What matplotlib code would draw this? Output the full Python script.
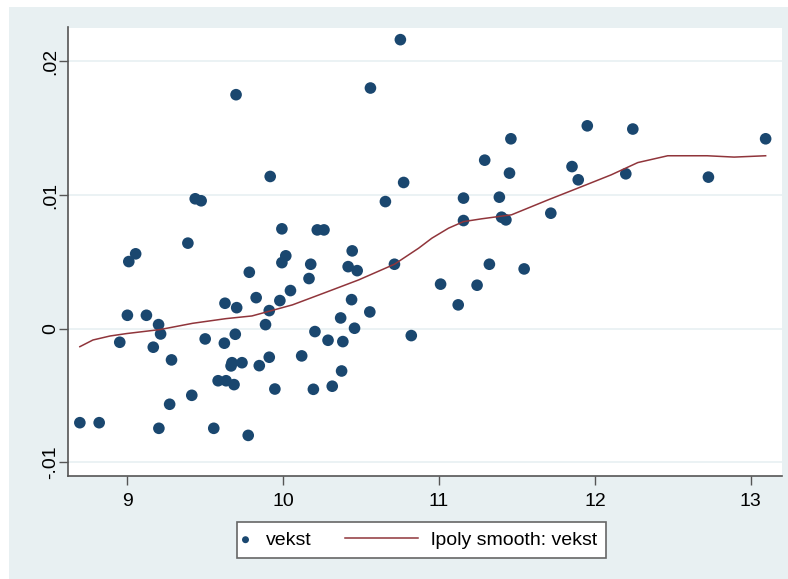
import matplotlib.pyplot as plt
from matplotlib.patches import Rectangle
from matplotlib.legend_handler import HandlerPathCollection, HandlerLine2D

# scatter data: vekst vs x
xs = [10.752, 9.698, 10.560, 9.917, 10.773, 9.436, 9.474, 10.656, 9.992, 10.219,
      10.262, 9.389, 9.054, 9.010, 10.443, 10.017, 9.992, 10.177, 10.417, 10.475,
      9.783, 10.166, 10.047, 9.827, 9.979, 10.439, 9.627, 9.702, 9.911, 10.556,
      9.001, 9.123, 10.369, 9.201, 9.887, 10.458, 10.204, 9.214, 9.693, 10.822,
      9.500, 10.288, 10.383, 8.952, 9.623, 9.167, 10.119, 9.911, 9.284, 9.672,
      9.736, 9.666, 9.847, 10.375, 9.583, 9.634, 9.685, 10.315, 9.947, 10.194,
      9.414, 9.272, 8.696, 8.820, 9.203, 9.555, 9.776, 10.714, 11.951, 12.243,
      11.461, 13.095, 11.293, 11.853, 11.452, 12.198, 11.893, 12.728, 11.157, 11.387,
      11.157, 11.401, 11.429, 11.717, 11.323, 11.546, 11.010, 11.244, 11.123]
vekst = [0.02163, 0.01751, 0.01801, 0.01139, 0.01094, 0.00972, 0.00957, 0.00951, 0.00747, 0.00739,
         0.00739, 0.00640, 0.00560, 0.00502, 0.00582, 0.00545, 0.00494, 0.00482, 0.00464, 0.00434,
         0.00422, 0.00375, 0.00285, 0.00232, 0.00210, 0.00217, 0.00190, 0.00157, 0.00135, 0.00125,
         0.00100, 0.00100, 0.00080, 0.00030, 0.00030, 0.00003, -0.00022, -0.00040, -0.00042, -0.00052,
         -0.00077, -0.00087, -0.00097, -0.00102, -0.00109, -0.00139, -0.00204, -0.00214, -0.00234, -0.00255,
         -0.00255, -0.00279, -0.00277, -0.00317, -0.00390, -0.00390, -0.00419, -0.00431, -0.00452, -0.00454,
         -0.00499, -0.00566, -0.00704, -0.00704, -0.00746, -0.00746, -0.00799, 0.00482, 0.01518, 0.01494,
         0.01421, 0.01421, 0.01261, 0.01213, 0.01164, 0.01159, 0.01114, 0.01134, 0.00977, 0.00984,
         0.00809, 0.00834, 0.00814, 0.00864, 0.00482, 0.00447, 0.00333, 0.00325, 0.00178]

# lpoly smooth curve
sx = [8.696, 8.78, 8.89, 8.995, 9.21, 9.42, 9.634, 9.80, 9.91, 10.06, 10.27, 10.485,
      10.714, 10.869, 10.954, 11.061, 11.157, 11.273, 11.465, 11.70, 11.891, 12.104,
      12.275, 12.467, 12.72, 12.893, 13.095]
sy = [-0.00135, -0.00085, -0.00055, -0.00037, -0.00007, 0.00040, 0.00075, 0.00095, 0.00130,
      0.00178, 0.00270, 0.00365, 0.00482, 0.00602, 0.00677, 0.00752, 0.00801, 0.00822,
      0.00852, 0.00964, 0.01052, 0.01151, 0.01243, 0.01294, 0.01294, 0.01284, 0.01294]

yticks = [-0.01, 0, 0.01, 0.02]
ylabels = ['-.01', '0', '.01', '.02']
xticks = [9, 10, 11, 12, 13]

plt.rcParams['font.family'] = ['Liberation Sans', 'DejaVu Sans']

bg = '#e8f0f2'
navy = '#1a476f'
maroon = '#90353b'


# legend handlers: marker sits at the left of its box, line reaches back to the left
class LeftMarker(HandlerPathCollection):
    def get_xdata(self, legend, xdescent, ydescent, width, height, fontsize):
        return [-xdescent, -xdescent + width], [-xdescent]


class LongLine(HandlerLine2D):
    def get_xdata(self, legend, xdescent, ydescent, width, height, fontsize):
        xd = [-xdescent + width - 55.5, -xdescent + width - 2.9]
        return xd, xd


fig = plt.figure(figsize=(7.88, 5.79), dpi=100, facecolor='white')
fig.patches.append(Rectangle((9/788, 0), 1, 1 - 7/579, transform=fig.transFigure,
                             facecolor=bg, edgecolor='none', zorder=-10))
ax = fig.add_axes([68/788, 1 - 476/579, 714/788, 448.5/579])
ax.set_facecolor('white')

sc = ax.scatter(xs, vekst, s=70, color=navy, edgecolors='none', label='vekst', zorder=3)
ln, = ax.plot(sx, sy, color=maroon, lw=1.1, label='lpoly smooth: vekst', zorder=4)

ax.set_xlim(8.62, 13.2)
ax.set_ylim(-0.01103, 0.02254)
ax.set_xticks(xticks)
ax.set_xticklabels([str(t) for t in xticks])
ax.set_yticks(yticks)
ax.set_yticklabels(ylabels, rotation=90, va='center')
ax.tick_params(axis='both', labelsize=14, length=6.5, width=1, color='#555555')
ax.tick_params(axis='y', pad=0)
ax.tick_params(axis='x', pad=6)
for t in yticks:
    ax.axhline(t, color=bg, lw=1.2, zorder=1)

for side in ['top', 'right']:
    ax.spines[side].set_visible(False)
for side in ['left', 'bottom']:
    ax.spines[side].set_color('#555555')
    ax.spines[side].set_linewidth(1.2)

leg = fig.legend(handles=[sc, ln], loc='center', bbox_to_anchor=(421.5/788, 1 - 540/579), ncol=2,
                 fontsize=14, frameon=True, fancybox=False, framealpha=1, markerscale=0.6,
                 handlelength=0.6, handletextpad=0.45, columnspacing=5.1, borderpad=0.45,
                 handler_map={type(sc): LeftMarker(), type(ln): LongLine()})
leg.get_frame().set_edgecolor('#666666')
leg.get_frame().set_linewidth(1.2)

plt.savefig('out.png', dpi=100, facecolor=fig.get_facecolor())
